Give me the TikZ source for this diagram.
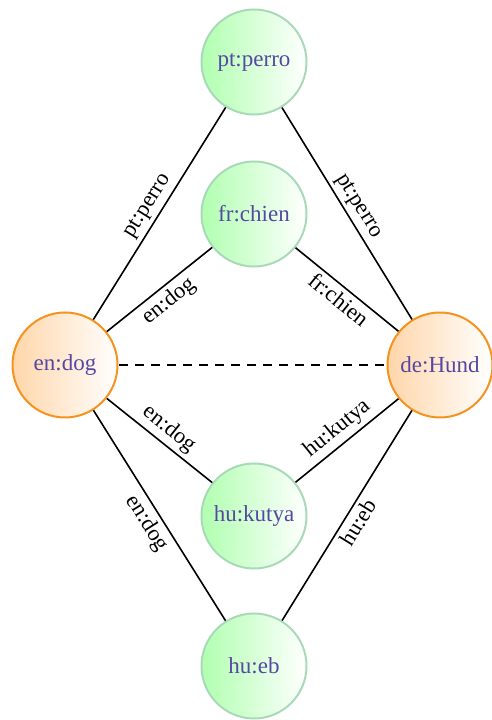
\documentclass[tikz,border=0pt]{standalone}
\usepackage{fontspec}
\setmainfont{Liberation Serif}
\definecolor{hubline}{RGB}{246,146,30}
\definecolor{hubfill}{RGB}{255,214,170}
\definecolor{wordline}{RGB}{168,218,184}
\definecolor{wordfill}{RGB}{176,255,176}
\definecolor{labelblue}{RGB}{86,72,162}
\begin{document}
\begin{tikzpicture}[x=1pt,y=1pt,line join=round,
	hub/.style={circle,draw=hubline,line width=2pt,left color=hubfill,right color=white,minimum size=105pt,inner sep=0pt,text=labelblue,font=\fontsize{23}{23}\selectfont},
	word/.style={circle,draw=wordline,line width=2pt,left color=wordfill,right color=white,minimum size=105pt,inner sep=0pt,text=labelblue,font=\fontsize{23}{23}\selectfont},
	link/.style={line width=1.6pt},
	lbl/.style={sloped,midway,inner sep=4pt,font=\fontsize{22.5}{22.5}\selectfont}]
	\useasboundingbox (0,0) rectangle (492,720);
	% the two ends
	\node[hub] (en) at (65,355) {en:dog};
	\node[hub] (de) at (440,355) {de:Hund};
	% the words in between
	\node[word] (pt) at (254,658) {pt:perro};
	\node[word] (fr) at (254,506) {fr:chien};
	\node[word] (ku) at (254,204) {hu:kutya};
	\node[word] (eb) at (254,54) {hu:eb};
	% links
	\draw[link] (en)--(pt) node[lbl,above]{pt:perro};
	\draw[link] (pt)--(de) node[lbl,above]{pt:perro};
	\draw[link] (en)--(fr) node[lbl,below]{en:dog};
	\draw[link] (fr)--(de) node[lbl,below]{fr:chien};
	\draw[link] (en)--(ku) node[lbl,above]{en:dog};
	\draw[link] (ku)--(de) node[lbl,above]{hu:kutya};
	\draw[link] (en)--(eb) node[lbl,below]{en:dog};
	\draw[link] (eb)--(de) node[lbl,below]{hu:eb};
	\draw[link,dash pattern=on 9pt off 7pt] (en)--(de);
\end{tikzpicture}
\end{document}
